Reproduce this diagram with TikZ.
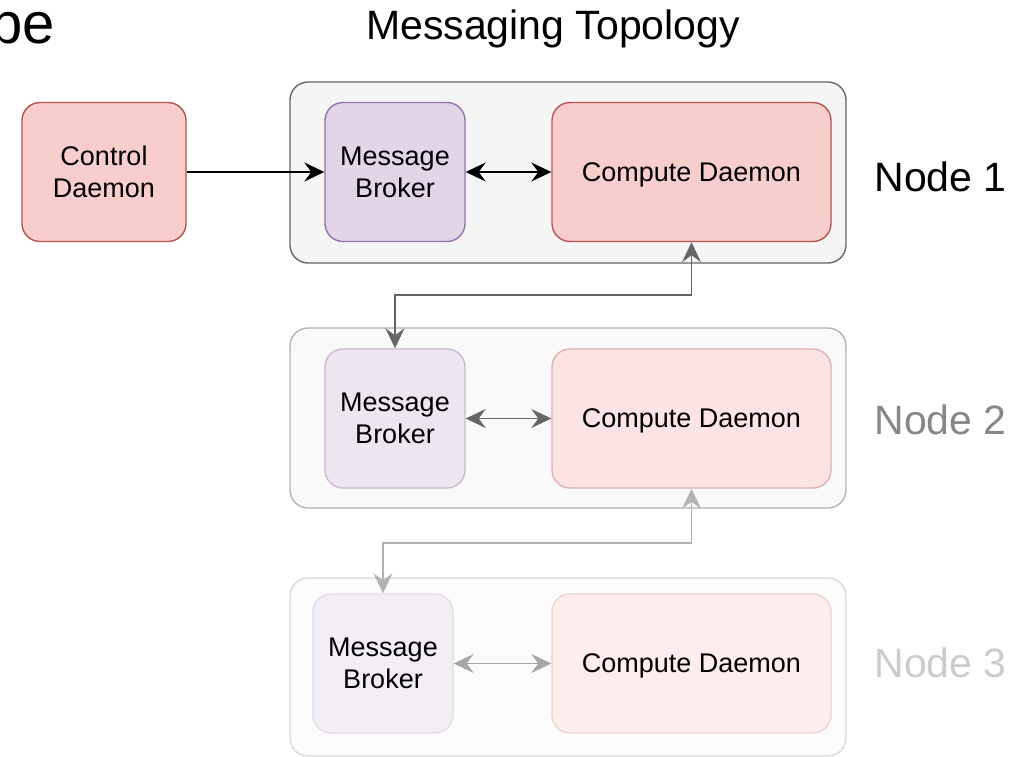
\documentclass[tikz,border=0pt]{standalone}
\usepackage{fontspec}
\setmainfont{Liberation Sans}
\usetikzlibrary{arrows.meta}
\definecolor{redfill}{HTML}{F8CECC}
\definecolor{redline}{HTML}{B85450}
\definecolor{purplefill}{HTML}{E1D5E7}
\definecolor{purpleline}{HTML}{9673A6}
\definecolor{greyfill}{HTML}{F5F5F5}
\definecolor{greyline}{HTML}{666666}
\tikzset{
  box/.style={draw, rounded corners=18pt, line width=1.4pt, inner sep=0pt, align=center,
    font=\fontsize{27}{32}\selectfont},
  group/.style={draw, rounded corners=18pt, line width=1.4pt, inner sep=0pt, minimum width=556pt},
  broker/.style={box, minimum width=140pt, minimum height=139pt},
  daemon/.style={box, minimum width=279pt, minimum height=139pt, text depth=0pt},
  big/.style={font=\fontsize{41}{48}\selectfont},
  head/.tip={Stealth[length=20pt,width=19pt,inset=7pt]},
  link/.style={line width=1.6pt, head-head},
}
\begin{document}
\begin{tikzpicture}[x=1pt, y=-1pt]
  \useasboundingbox (0,0) rectangle (1022,756);
  \node[anchor=base east, inner sep=0pt, font=\fontsize{58}{66}\selectfont] (cut) at (55,43) {pe};
  \node[big, anchor=base] (title) at (553,39) {Messaging Topology};

  % node 1
  \node[group, fill=greyfill, draw=greyline, minimum height=181pt] (g1) at (568,172.5) {};
  \node[box, fill=redfill, draw=redline, minimum width=164pt, minimum height=139pt] (ctl) at (104,172) {Control\\Daemon};
  \node[broker, fill=purplefill, draw=purpleline] (b1) at (395,172) {Message\\Broker};
  \node[daemon, fill=redfill, draw=redline] (c1) at (691.5,172) {Compute Daemon};
  \node[big, anchor=west] (n1) at (871,177) {Node 1};

  % node 2
  \node[group, fill=greyfill!60, draw=greyline!50, minimum height=180pt] (g2) at (568,418) {};
  \node[broker, fill=purplefill!60, draw=purpleline!50] (b2) at (395,418.5) {Message\\Broker};
  \node[daemon, fill=redfill!55, draw=redline!45] (c2) at (691.5,418.5) {Compute Daemon};
  \node[big, anchor=west, text=black!47] (n2) at (871,420) {Node 2};

  % node 3
  \node[group, fill=greyfill!35, draw=greyline!25, minimum height=178pt] (g3) at (568,667) {};
  \node[broker, fill=purplefill!40, draw=purpleline!25] (b3) at (383,663.5) {Message\\Broker};
  \node[daemon, fill=redfill!35, draw=redline!25] (c3) at (691.5,663.5) {Compute Daemon};
  \node[big, anchor=west, text=black!20] (n3) at (871,663) {Node 3};

  \draw[line width=1.6pt, -head] (ctl) -- (b1);
  \draw[link] (b1) -- (c1);
  \draw[link, draw=black!60, fill=black!60] (b2) -- (c2);
  \draw[link, draw=black!35, fill=black!35] (b3) -- (c3);
  \draw[link, draw=greyline] (c1.south) -- ++(0,53) -| (b2.north);
  \draw[link, draw=black!30] (c2.south) -- ++(0,54) -| (b3.north);
\end{tikzpicture}
\end{document}
